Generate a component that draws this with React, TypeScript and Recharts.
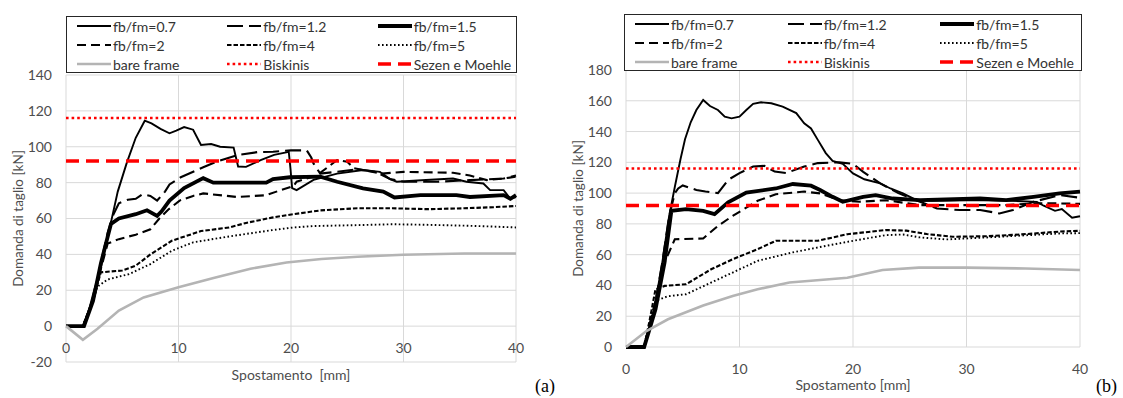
import React from 'react'
import { LineChart, Line, XAxis, YAxis, CartesianGrid, ReferenceLine } from 'recharts'

type Pt = [number, number]

// panel (a)
const a07: Pt[] = [[0, 0], [1.5, 0], [2, 8], [2.5, 20], [3, 30], [3.5, 44], [4, 58], [4.6, 75], [5.4, 91], [6.2, 105], [7, 114.5], [7.6, 113], [8.4, 110], [9.2, 107.5], [9.8, 109], [10.5, 111], [11.3, 109.5], [12, 101], [12.9, 101.5], [13.7, 100], [14.9, 99.5], [15.3, 89], [16, 88.8], [17.3, 92.6], [18.5, 95.5], [19.8, 97.2], [19.95, 88], [20.1, 77], [20.5, 75.8], [22, 81.5], [24.1, 85], [26.4, 87], [27.9, 86], [28.8, 82], [29.4, 80.5], [32, 81.5], [34.4, 82.3], [35.6, 80.5], [37.1, 79.5], [37.7, 75.8], [38.9, 75.8], [39.5, 71], [40, 72]]
const a12: Pt[] = [[0, 0], [1.5, 0], [2.4, 14], [3.1, 35], [3.7, 52], [4.2, 62], [4.7, 68.5], [5.5, 70.5], [6.2, 71], [6.8, 73.5], [7.5, 72.6], [8.1, 70], [8.8, 75], [9.2, 79], [10.2, 83], [12.2, 88.6], [13.5, 92], [15.2, 95.3], [17, 97], [18.4, 97.2], [20, 98], [21.4, 98], [21.8, 94], [22, 90.7], [22.6, 85], [24, 86], [25.9, 87.4], [27.5, 86], [28.8, 82], [30, 80.5], [33, 80.5], [35.9, 81.4], [38.9, 82.3], [40, 84]]
const a15: Pt[] = [[0, 0], [1.6, 0], [2.4, 14], [3.1, 35], [4, 57], [4.7, 60], [6.2, 62.4], [7.2, 64.6], [8.1, 61.5], [8.5, 64], [9.2, 70], [10.5, 77], [12.2, 82.5], [13.1, 80], [15.5, 80], [17.8, 80], [18.4, 82], [19.9, 83], [22.6, 83.3], [24.1, 80.5], [26.4, 76.8], [28.2, 75], [29.2, 71.7], [31.5, 73], [34.7, 73], [35.9, 72], [38.9, 73], [39.5, 71], [40, 73]]
const a2: Pt[] = [[0, 0], [1.5, 0], [2.4, 14], [3.1, 32], [3.7, 46], [4.7, 48.5], [6.2, 51], [7.5, 54], [8.3, 60], [9.1, 65], [10.1, 70], [11.3, 72.6], [12.2, 74], [15.2, 72], [17.8, 73], [18.9, 75.4], [20.2, 78], [20.5, 80.5], [22.3, 84], [24.1, 92.6], [25, 91.6], [25.6, 88], [28, 85], [30, 86], [34.4, 85.5], [35.9, 84], [37.4, 81.4], [38.9, 82.3], [40, 83.3]]
const a4: Pt[] = [[0, 0], [1.5, 0], [2.4, 15], [3.1, 30], [5, 31], [6.2, 33.7], [7.5, 40], [9.4, 47.6], [12, 53], [14.5, 55], [16, 57.5], [18.3, 60.5], [20.2, 62.4], [22.6, 64.5], [25.9, 65.7], [29, 65.7], [32.2, 65.2], [35.4, 65.7], [38, 66.3], [40, 67]]
const a5: Pt[] = [[0, 0], [1.5, 0], [2.3, 12], [2.8, 22], [3.7, 26], [5.6, 29], [7.5, 34.6], [9.4, 42], [11.3, 46.7], [14.5, 50], [18.3, 53.5], [20.2, 55], [22, 55.8], [25.9, 56.3], [29, 56.8], [32, 56.5], [35.4, 56], [38, 55.5], [40, 55]]
const aBare: Pt[] = [[0, 0], [1.5, -7.6], [2.8, -1.5], [4.7, 8.7], [6.9, 16], [10, 21.7], [13.2, 27], [16.4, 32], [19.6, 35.5], [22.7, 37.4], [25.9, 38.7], [30, 39.8], [35.4, 40.5], [40, 40.5]]

// panel (b)
const b07: Pt[] = [[0, 0], [1.6, 0], [2.5, 25], [3.2, 55], [3.8, 85], [4.3, 104], [4.8, 122], [5.2, 135], [5.7, 146], [6.2, 154], [6.8, 160.5], [7.4, 156.6], [8.1, 154], [8.7, 149.7], [9.3, 148.6], [10, 149.7], [10.6, 154], [11.2, 158], [11.9, 159], [12.8, 158.4], [13.8, 156.2], [15, 152], [15.7, 145.4], [16.3, 142], [16.9, 134.6], [17.6, 126], [18.2, 121], [19.1, 119], [20, 112.8], [21, 109], [22.4, 106.3], [23.3, 103], [24.4, 99.8], [25.6, 95.4], [27, 95], [30, 95.4], [31.5, 95.4], [34, 95], [36.2, 94.3], [36.8, 91.8], [37.8, 88.5], [38.4, 89.6], [39.3, 84], [40, 85]]
const b12: Pt[] = [[0, 0], [1.6, 0], [2.5, 25], [3.2, 55], [3.8, 85], [4.3, 100], [4.6, 103], [5, 105], [6.2, 102], [7, 101], [8.1, 100], [9, 108.6], [10, 113], [11.2, 117.3], [12.2, 117.7], [13.1, 114], [14.1, 113], [15.7, 117.3], [16.9, 119.5], [18.8, 120], [20, 119], [20.9, 113.8], [22.4, 106.3], [24, 100], [25.9, 94.4], [27.4, 90], [29.4, 89], [31.2, 89], [32.9, 86.8], [34.1, 89], [35.9, 94.4], [38.2, 98.7], [40, 97]]
const b15: Pt[] = [[0, 0], [1.6, 0], [2.6, 24.5], [3.4, 55], [4, 88.5], [5.3, 89.6], [6.8, 88.5], [7.8, 86.3], [9, 94], [10.6, 100.4], [13.2, 103], [14.7, 105.9], [16.3, 104.8], [17.1, 102], [18.2, 97.6], [19.1, 94.4], [20.9, 97.6], [22, 98.7], [23.5, 96.5], [25.9, 95.4], [31.2, 96.5], [33.5, 95.4], [35.9, 97.6], [38.2, 99.8], [40, 101]]
const b2: Pt[] = [[0, 0], [1.6, 0], [2.6, 30], [3.4, 55], [4.3, 70], [6.8, 70.5], [8.1, 78.7], [9.4, 85.2], [11.6, 95], [13.2, 99.3], [15.7, 101], [17.1, 99.8], [18.8, 95.4], [20.6, 94.4], [22.9, 95.4], [25.9, 92.2], [30, 92.2], [33.5, 92.2], [35.9, 93.3], [38.2, 93.3], [40, 93]]
const b4: Pt[] = [[0, 0], [1.6, 0], [2.1, 18], [2.6, 37.5], [3.4, 39.7], [5.3, 40.8], [7.5, 50.5], [9.4, 57], [11.6, 63.6], [13.2, 69], [15.7, 69], [16.9, 69], [19.5, 73.3], [22.9, 76], [24.7, 75.6], [26.5, 73.4], [28.8, 71.6], [31.8, 72], [34.7, 73.1], [38.2, 75], [40, 75.5]]
const b5: Pt[] = [[0, 0], [1.6, 0], [2.1, 15], [2.6, 30], [3.7, 33], [5.3, 34.3], [7.5, 41.9], [9.4, 48.4], [11.6, 56], [14.7, 61.5], [17.6, 65.7], [20, 69], [22.9, 72.7], [24.4, 73.1], [25.9, 71.2], [28.2, 69.9], [31.8, 71.2], [38.2, 73.8], [40, 74]]
const bBare: Pt[] = [[0, 0], [1.8, 10.4], [3.7, 18], [6.8, 27], [9.4, 33.2], [11.6, 37.5], [14.4, 41.9], [16.3, 43], [19.5, 45], [22.6, 50], [25.8, 51.6], [30, 51.6], [35.2, 51], [40, 50]]

const xTicks = [0, 10, 20, 30, 40]
const aYTicks = [-20, 0, 20, 40, 60, 80, 100, 120, 140]
const bYTicks = [0, 20, 40, 60, 80, 100, 120, 140, 160, 180]
const seriesNames = ['fb/fm=0.7', 'fb/fm=1.2', 'fb/fm=1.5', 'fb/fm=2', 'fb/fm=4', 'fb/fm=5', 'bare frame']
const refNames = ['Biskinis', 'Sezen e Moehle']
const refValues = [116, 92]

const font = 'Lato, "Open Sans", sans-serif'
const textGray = '#4d4d4d'

type LStyle = { stroke: string; width: number; dash?: string }
const lineStyles: LStyle[] = [
  { stroke: '#000', width: 1.9 },
  { stroke: '#000', width: 2.1, dash: '16 6' },
  { stroke: '#000', width: 3.8 },
  { stroke: '#000', width: 2.1, dash: '9 5' },
  { stroke: '#000', width: 2.1, dash: '4.5 2' },
  { stroke: '#000', width: 1.9, dash: '1.6 2.4' },
  { stroke: '#b4b4b4', width: 2.6 },
]
const refStyles: LStyle[] = [
  { stroke: '#ff0000', width: 2.6, dash: '2.6 3' },
  { stroke: '#ff0000', width: 3.5, dash: '13 7' },
]

const toRows = (pts: Pt[]) => pts.map(([x, y]) => ({ x, y }))

function LegendBox({ left, top, width }: { left: number; top: number; width: number }) {
  const names = [...seriesNames, ...refNames]
  const styles = [...lineStyles, ...refStyles]
  return (
    <div style={{ position: 'absolute', left, top, width, height: 57, border: '1px solid #262626', boxSizing: 'border-box', background: '#fff' }}>
      {names.map((n, i) => {
        const col = i % 3, row = Math.floor(i / 3)
        const s = styles[i]
        return (
          <div key={n} style={{ position: 'absolute', left: 10 + col * (width / 3), top: row * 19, height: 18, display: 'flex', alignItems: 'center', whiteSpace: 'nowrap' }}>
            <svg width={34} height={8} style={{ display: 'block' }}>
              <line x1={0} x2={34} y1={4} y2={4} stroke={s.stroke} strokeWidth={s.width} strokeDasharray={s.dash} />
            </svg>
            <span style={{ fontFamily: font, fontSize: 14, color: '#333', marginLeft: 2 }}>{n}</span>
          </div>
        )
      })}
    </div>
  )
}

function Panel({ series, yTicks, width, top, right, xAxisH, tickDy, titleOffset, xTitle }: {
  series: Pt[][]; yTicks: number[]; width: number; top: number; right: number; xAxisH: number; tickDy: number; titleOffset: number; xTitle: string
}) {
  const xTick = (p: any) => (
    <text x={p.x} y={p.y + tickDy} textAnchor="middle" dominantBaseline="central" fill={textGray} fontSize={14} fontFamily={font}>{p.payload.value}</text>
  )
  return (
    <LineChart width={width} height={398} margin={{ top, right, left: 0, bottom: 0 }}>
      <CartesianGrid stroke="#d9d9d9" strokeWidth={1} />
      <XAxis type="number" dataKey="x" domain={[0, 40]} ticks={xTicks} height={xAxisH} axisLine={false} tickLine={false} tickSize={0} tickMargin={0} tick={xTick}
        label={{ value: xTitle, position: 'insideBottom', offset: titleOffset, style: { fill: textGray, fontSize: 14, fontFamily: font } }} />
      <YAxis type="number" domain={[yTicks[0], yTicks[yTicks.length - 1]]} ticks={yTicks} width={66} axisLine={false} tickLine={false} tickSize={0} tickMargin={14}
        tick={{ fill: textGray, fontSize: 14, fontFamily: font }}
        label={{ value: 'Domanda di taglio [kN]', angle: -90, position: 'insideLeft', offset: 18, style: { textAnchor: 'middle', fill: textGray, fontSize: 13.5, fontFamily: font } }} />
      {series.map((pts, i) => (
        <Line key={seriesNames[i]} data={toRows(pts)} dataKey="y" name={seriesNames[i]} type="linear" stroke={lineStyles[i].stroke}
          strokeWidth={lineStyles[i].width} strokeDasharray={lineStyles[i].dash} dot={false} activeDot={false} isAnimationActive={false} />
      ))}
      {refValues.map((v, i) => (
        <ReferenceLine key={refNames[i]} y={v} stroke={refStyles[i].stroke} strokeWidth={refStyles[i].width} strokeDasharray={refStyles[i].dash} />
      ))}
    </LineChart>
  )
}

export default function App() {
  return (
    <div style={{ position: 'absolute', left: 0, top: 0, width: 1123, height: 398, background: '#fff', overflow: 'hidden' }}>
      <div style={{ position: 'absolute', left: 0, top: 0 }}>
        <Panel series={[a07, a12, a15, a2, a4, a5, aBare]} yTicks={aYTicks} width={560} top={75} right={44} xAxisH={36} tickDy={-15} titleOffset={18} xTitle={'Spostamento\u00a0 [mm]'} />
      </div>
      <div style={{ position: 'absolute', left: 560, top: 0 }}>
        <Panel series={[b07, b12, b15, b2, b4, b5, bBare]} yTicks={bYTicks} width={563} top={70} right={43} xAxisH={51} tickDy={21} titleOffset={8} xTitle="Spostamento [mm]" />
      </div>
      <LegendBox left={66} top={16} width={451} />
      <LegendBox left={624} top={14} width={458} />
      <div style={{ position: 'absolute', left: 535, top: 376, fontFamily: '"Liberation Serif", serif', fontSize: 18, color: '#000' }}>(a)</div>
      <div style={{ position: 'absolute', left: 1096, top: 376, fontFamily: '"Liberation Serif", serif', fontSize: 18, color: '#000' }}>(b)</div>
    </div>
  )
}
